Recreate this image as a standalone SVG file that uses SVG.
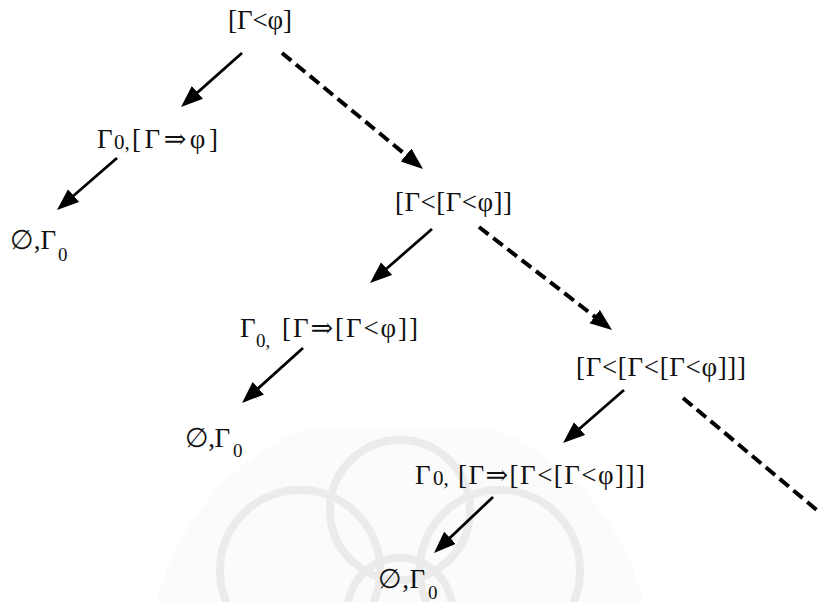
<svg xmlns="http://www.w3.org/2000/svg" width="820" height="602" viewBox="0 0 820 602">
<style>
.t{font-family:"Liberation Serif","DejaVu Serif",serif;font-size:27px;fill:#111}
.s{font-family:"Liberation Serif","DejaVu Serif",serif;font-size:19px;fill:#111}
.solid{stroke:#000;stroke-width:2.8;fill:none}
.dash{stroke:#000;stroke-width:4;fill:none;stroke-dasharray:12 6}
.wm{fill:none;stroke:#ebebeb;stroke-width:8}
</style>
<defs>
<marker id="ah" markerUnits="userSpaceOnUse" markerWidth="24" markerHeight="18" refX="4" refY="8.5" orient="auto">
<path d="M0,0 L22,8.5 L0,17 z" fill="#000"/>
</marker>
<clipPath id="wmclip"><rect x="0" y="430" width="820" height="172"/></clipPath>
</defs>
<rect width="820" height="602" fill="#fff"/>
<g id="watermark" clip-path="url(#wmclip)">
<circle cx="400" cy="660" r="250" fill="#fbfbfb"/>
<circle class="wm" cx="400" cy="610" r="52"/>
<circle class="wm" cx="300" cy="570" r="80"/>
<circle class="wm" cx="500" cy="570" r="80"/>
<circle class="wm" cx="400" cy="510" r="70"/>
</g>
<g id="connectors">
<line class="solid" x1="242" y1="53" x2="194.5" y2="95.1" marker-end="url(#ah)"/>
<line class="dash" x1="282" y1="53" x2="409.1" y2="157.6" marker-end="url(#ah)"/>
<line class="solid" x1="117" y1="158" x2="70.6" y2="198.2" marker-end="url(#ah)"/>
<line class="solid" x1="432" y1="229" x2="383.6" y2="271.2" marker-end="url(#ah)"/>
<line class="dash" x1="479" y1="227" x2="597.8" y2="319" marker-end="url(#ah)"/>
<line class="solid" x1="303" y1="348" x2="255.4" y2="390.9" marker-end="url(#ah)"/>
<line class="solid" x1="624" y1="390" x2="576.6" y2="431.2" marker-end="url(#ah)"/>
<line class="dash" x1="683" y1="398" x2="824" y2="516"/>
<line class="solid" x1="493" y1="497" x2="447.1" y2="540.6" marker-end="url(#ah)"/>
</g>
<g id="n1"><text class="t" x="228" y="29" textLength="64" lengthAdjust="spacing">[Γ&lt;φ]</text></g>
<g id="n2"><text class="t" x="97" y="148">Γ</text><text class="s" x="114" y="149" style="font-size:21px">0,</text><text class="t" x="132" y="148" textLength="86" lengthAdjust="spacing">[Γ⇒φ]</text></g>
<g id="n3"><text class="t" x="10" y="249" textLength="46" lengthAdjust="spacing">∅,Γ</text><text class="s" x="58" y="261">0</text></g>
<g id="n4"><text class="t" x="395" y="211" textLength="117" lengthAdjust="spacing">[Γ&lt;[Γ&lt;φ]]</text></g>
<g id="n5"><text class="t" x="240" y="337">Γ</text><text class="s" x="256" y="347">0,</text><text class="t" x="282" y="337" textLength="136" lengthAdjust="spacing">[Γ⇒[Γ&lt;φ]]</text></g>
<g id="n6"><text class="t" x="185" y="447" textLength="45" lengthAdjust="spacing">∅,Γ</text><text class="s" x="233" y="457">0</text></g>
<g id="n7"><text class="t" x="576" y="376" textLength="170" lengthAdjust="spacing">[Γ&lt;[Γ&lt;[Γ&lt;φ]]]</text></g>
<g id="n8"><text class="t" x="415" y="484">Γ</text><text class="s" x="433" y="485" style="font-size:21px">0,</text><text class="t" x="458" y="484" textLength="187" lengthAdjust="spacing">[Γ⇒[Γ&lt;[Γ&lt;φ]]]</text></g>
<g id="n9"><text class="t" x="378" y="588" textLength="47" lengthAdjust="spacing">∅,Γ</text><text class="s" x="428" y="599">0</text></g>
</svg>
